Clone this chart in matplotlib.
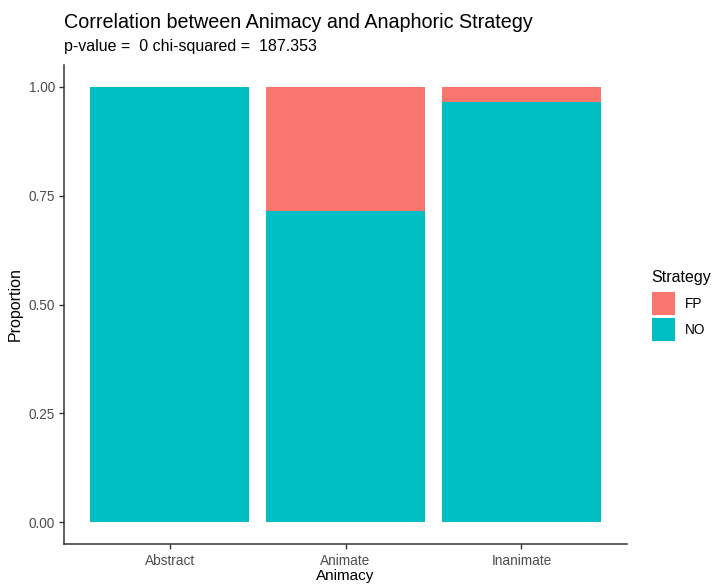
import matplotlib
matplotlib.use("Agg")
import matplotlib.pyplot as plt
from matplotlib.patches import Rectangle
import numpy as np

plt.rcParams["font.family"] = ["Liberation Sans", "DejaVu Sans"]

categories = ["Abstract", "Animate", "Inanimate"]
no_prop = [1.0, 0.715, 0.965]
fp_prop = [0.0, 0.285, 0.035]
strategies = ["FP", "NO"]
colors = {"FP": "#F8766D", "NO": "#00BFC4"}
yticks = [0.0, 0.25, 0.5, 0.75, 1.0]
ytick_labels = ["0.00", "0.25", "0.50", "0.75", "1.00"]

W, H = 712, 584
fig = plt.figure(figsize=(W / 100, H / 100), dpi=100)
ax_h = 544 - 65
ax = fig.add_axes([64 / W, 1 - 544 / H, (627 - 64) / W, ax_h / H])

x = np.arange(1, len(categories) + 1)
ax.bar(x, no_prop, width=0.9, color=colors["NO"], edgecolor="none")
ax.bar(x, fp_prop, width=0.9, bottom=no_prop, color=colors["FP"], edgecolor="none")

ax.set_xlim(0.4, 3.6)
ax.set_ylim(-0.05, 1.05)
ax.set_xticks(x)
ax.set_xticklabels(categories)
ax.set_yticks(yticks)
ax.set_yticklabels(ytick_labels)
ax.tick_params(axis="both", colors="#333333", labelcolor="#4d4d4d", labelsize=9.8, length=3.5, width=1)
ax.tick_params(axis="x", pad=3.5)
ax.tick_params(axis="y", pad=3)
for s in ["top", "right"]:
    ax.spines[s].set_visible(False)
for s in ["left", "bottom"]:
    ax.spines[s].set_color("#333333")
    ax.spines[s].set_linewidth(1.1)

ax.set_xlabel("Animacy", fontsize=11, color="black")
ax.xaxis.set_label_coords(0.5, -(569 - 544) / ax_h)
ax.set_ylabel("Proportion", fontsize=11.5, labelpad=4, color="black")

fig.text(64 / W, 1 - 22 / H, "Correlation between Animacy and Anaphoric Strategy",
         fontsize=14.2, ha="left", va="center", color="black")
fig.text(64 / W, 1 - 47 / H, "p-value =  0 chi-squared =  187.353",
         fontsize=11.5, ha="left", va="center", color="black")

# legend
fig.text(651 / W, 1 - 277 / H, "Strategy", fontsize=11.5, ha="left", va="center")
for i, s in enumerate(strategies):
    top = 292 + i * 26
    fig.add_artist(Rectangle((652 / W, 1 - (top + 23) / H), 23 / W, 23 / H,
                             transform=fig.transFigure, facecolor=colors[s], edgecolor="none"))
    fig.text(685 / W, 1 - (top + 11.5) / H, s, fontsize=9.8, ha="left", va="center")

fig.savefig("out.png", dpi=100)
